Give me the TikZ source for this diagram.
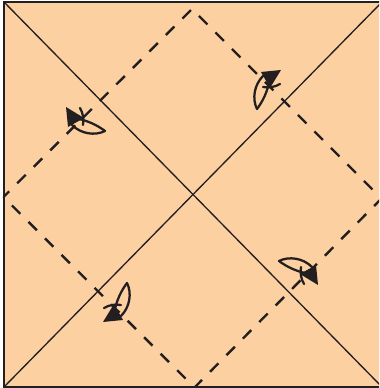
\documentclass[tikz,border=0pt]{standalone}
\usetikzlibrary{calc}
\definecolor{cpaper}{HTML}{FDD0A2}
\definecolor{cink}{HTML}{231F20}
\tikzset{
  paper/.style={fill=cpaper, draw=cink, line width=1.9pt},
  crease/.style={draw=cink, line width=1pt},
  valley/.style={draw=cink, line width=1.8pt, dash pattern=on 9pt off 8.5pt, dash phase=3pt},
  shaft/.style={draw=cink, line width=1.7pt, line cap=round},
  foldarrow/.pic={
    \draw[shaft] (-87,65) .. controls (-95,71) and (-104,75) .. (-113,77);
    \draw[shaft] (-87,65) .. controls (-97,60) and (-111,62) .. (-120,71);
    \fill[cink] (-126,89) -- (-124,69) -- (-108,78) -- cycle;
    \draw[shaft] (-112,88) .. controls (-109,83) and (-108,77) .. (-109,71);
  },
}
\begin{document}
\begin{tikzpicture}[x=0.75pt, y=0.75pt]
  \useasboundingbox (0,0) rectangle (379,388);
  \clip (0,0) rectangle (379,388);
  % sheet and its corners
  \coordinate (TL) at (4,386);
  \coordinate (TR) at (382,386);
  \coordinate (BL) at (4,1);
  \coordinate (BR) at (382,1);
  \coordinate (C) at (192,192);
  % midpoints of the sides
  \coordinate (mT) at (192,379);
  \coordinate (mR) at (381.5,189.5);
  \coordinate (mB) at (194.5,0.5);
  \coordinate (mL) at (3.5,191);
  \draw[paper] (BL) rectangle (TR);
  \draw[crease] (TL) -- (BR);
  \draw[crease] (BL) -- (TR);
  \draw[valley] (mL) -- (mT) -- (mR) -- (mB) -- cycle;
  % the four folds
  \foreach \a in {0,-90,-180,-270}
    \pic[rotate=\a] at (C) {foldarrow};
\end{tikzpicture}
\end{document}
